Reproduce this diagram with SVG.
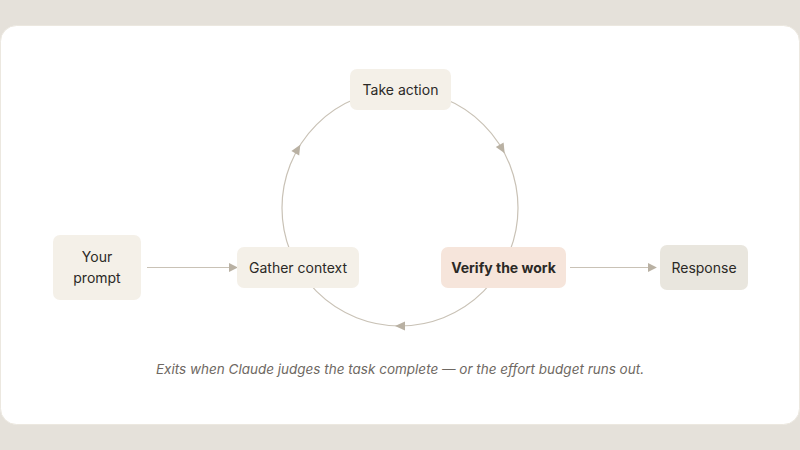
<svg xmlns="http://www.w3.org/2000/svg" width="800" height="450" viewBox="0 0 800 450">
<style>
.node{fill:#f4f0e8}
.lbl{font-family:Inter,"Noto Sans",sans-serif;font-size:14px;fill:#2b2926;text-anchor:middle}
.conn{stroke:#c9c2b6;stroke-width:1.2;fill:none}
.head{fill:#b9b1a3}
.cap{font-family:Inter,"Noto Sans",sans-serif;font-size:13.5px;font-style:italic;fill:#6e6862;text-anchor:middle}
</style>
<defs>
<marker id="arr" viewBox="0 0 10 10" refX="9" refY="5" markerWidth="9" markerHeight="9" markerUnits="userSpaceOnUse" orient="auto">
<path d="M0,0 L10,5 L0,10 Z" class="head"/>
</marker>
</defs>
<rect width="800" height="450" fill="#e5e1da"/>
<rect x="0.5" y="25.5" width="799" height="399" rx="16" fill="#ffffff" stroke="#ece8e0"/>
<g id="connectors">
<circle cx="400" cy="208" r="118" class="conn"/>
<polygon class="head" points="5,0 -5,-4.5 -5,4.5" transform="translate(297.8,149) rotate(-60)"/>
<polygon class="head" points="5,0 -5,-4.5 -5,4.5" transform="translate(502.2,149) rotate(60)"/>
<polygon class="head" points="5,0 -5,-4.5 -5,4.5" transform="translate(400,326) rotate(180)"/>
<line x1="147" y1="267.5" x2="237" y2="267.5" class="conn" marker-end="url(#arr)"/>
<line x1="570" y1="267.5" x2="656" y2="267.5" class="conn" marker-end="url(#arr)"/>
</g>
<g id="take-action">
<rect x="350" y="69" width="101" height="41" rx="7" class="node"/>
<text x="400.5" y="95" class="lbl">Take action</text>
</g>
<g id="gather-context">
<rect x="237" y="247" width="122" height="41" rx="7" class="node"/>
<text x="298" y="272.5" class="lbl">Gather context</text>
</g>
<g id="verify-work">
<rect x="441" y="247" width="125" height="41" rx="7" fill="#f6e5db"/>
<text x="503.5" y="272.5" class="lbl" font-weight="700">Verify the work</text>
</g>
<g id="your-prompt">
<rect x="53" y="235" width="88" height="65" rx="7" class="node"/>
<text x="97" y="262" class="lbl" font-size="15">Your</text>
<text x="97" y="283" class="lbl" font-size="15">prompt</text>
</g>
<g id="response">
<rect x="660" y="245" width="88" height="45" rx="7" fill="#e9e6de"/>
<text x="704" y="273" class="lbl" font-size="15">Response</text>
</g>
<text x="400" y="374" class="cap">Exits when Claude judges the task complete — or the effort budget runs out.</text>
</svg>
